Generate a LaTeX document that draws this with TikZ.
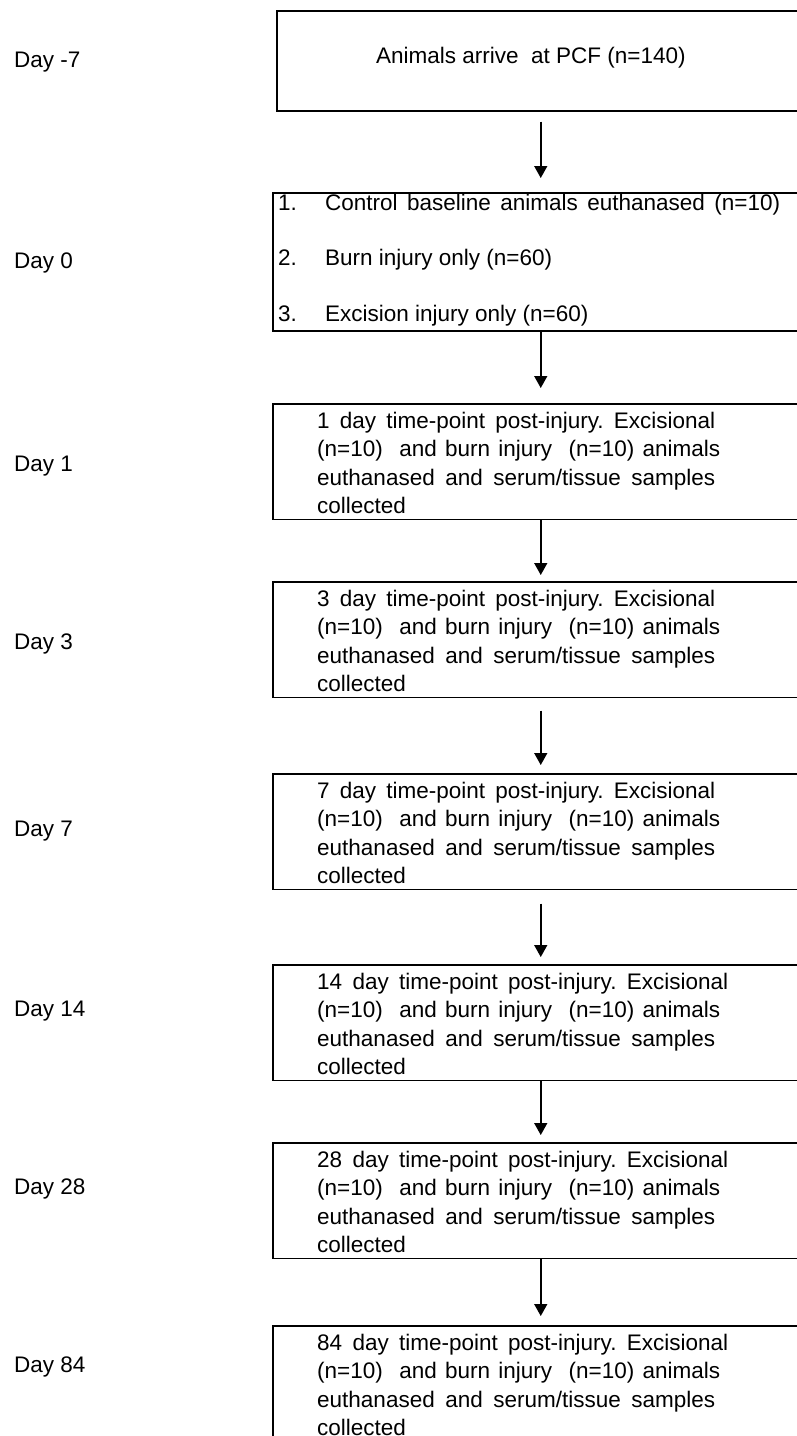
\documentclass[tikz,border=0pt]{standalone}
\usepackage{fontspec}
\setmainfont{Liberation Sans}
\usetikzlibrary{arrows.meta}
\frenchspacing
\newcommand\jline[2]{\makebox[#1][s]{#2}}
\newcommand\lines[1]{\begin{tabular}[t]{@{}l@{}}#1\end{tabular}}
\newcommand\tptext[2]{\lines{\jline{#2}{#1 day time-point post-injury. Excisional}\\
\jline{403pt}{(n=10)\ \ and burn injury\ \ (n=10) animals}\\
\jline{398pt}{euthanased and serum/tissue samples}\\
collected}}
\begin{document}
\begin{tikzpicture}[x=1pt,y=-1pt,
  box/.style={draw=black, line width=1.5pt, rectangle, inner sep=0pt, anchor=north west},
  txt/.style={anchor=base west, inner sep=0pt, text=black, font=\fontsize{22.5}{28.3}\selectfont},
  arr/.style={-{Triangle[width=13pt,length=12pt]}, line width=1.5pt}]
\useasboundingbox (0,0) rectangle (797,1436);
\fill[white] (0,0) rectangle (797,1436);
\clip (0,0) rectangle (797,1436);

% boxes
\node[box, minimum width=528pt, minimum height=100pt] (b1) at (276,10) {};
\node[box, minimum width=536pt, minimum height=138pt] (b2) at (272,192) {};
\node[box, minimum width=536pt, minimum height=115.5pt] (b3) at (272,403) {};
\node[box, minimum width=536pt, minimum height=115.5pt] (b4) at (272,581) {};
\node[box, minimum width=536pt, minimum height=115.5pt] (b5) at (272,773) {};
\node[box, minimum width=536pt, minimum height=115.5pt] (b6) at (272,964) {};
\node[box, minimum width=536pt, minimum height=115.5pt] (b7) at (272,1142) {};
\node[box, minimum width=536pt, minimum height=115.5pt] (b8) at (272,1325) {};

% box texts
\node[txt] (t1) at (376,63.3) {Animals arrive\ \ at PCF (n=140)};
\node[txt, font=\fontsize{22.5}{55.5}\selectfont] (t2) at (278,210) {\lines{%
\makebox[47pt][l]{1.}\jline{455pt}{Control baseline animals euthanased (n=10)}\\
\makebox[47pt][l]{2.}Burn injury only (n=60)\\
\makebox[47pt][l]{3.}Excision injury only (n=60)}};
\node[txt] (t3) at (317,428.5) {\tptext{1}{398pt}};
\node[txt] (t4) at (317,606.5) {\tptext{3}{398pt}};
\node[txt] (t5) at (317,798.5) {\tptext{7}{398pt}};
\node[txt] (t6) at (317,989.5) {\tptext{14}{411pt}};
\node[txt] (t7) at (317,1167.5) {\tptext{28}{411pt}};
\node[txt] (t8) at (317,1350.5) {\tptext{84}{411pt}};

% day labels
\node[txt] (d1) at (14,67.3) {Day -7};
\node[txt] (d2) at (14,268.3) {Day 0};
\node[txt] (d3) at (14,471.7) {Day 1};
\node[txt] (d4) at (14,649.3) {Day 3};
\node[txt] (d5) at (14,836) {Day 7};
\node[txt] (d6) at (14,1016) {Day 14};
\node[txt] (d7) at (14,1194) {Day 28};
\node[txt] (d8) at (14,1372) {Day 84};

% arrows
\draw[arr, shorten <=10pt, shorten >=14pt] (b1.south) -- (b2.north);
\draw[arr, shorten >=15pt] (b2.south) -- (b3.north);
\draw[arr, shorten >=6pt] (b3.south) -- (b4.north);
\draw[arr, shorten <=12.5pt, shorten >=8pt] (b4.south) -- (b5.north);
\draw[arr, shorten <=13.5pt, shorten >=7pt] (b5.south) -- (b6.north);
\draw[arr, shorten >=7pt] (b6.south) -- (b7.north);
\draw[arr, shorten >=9pt] (b7.south) -- (b8.north);
\end{tikzpicture}
\end{document}
